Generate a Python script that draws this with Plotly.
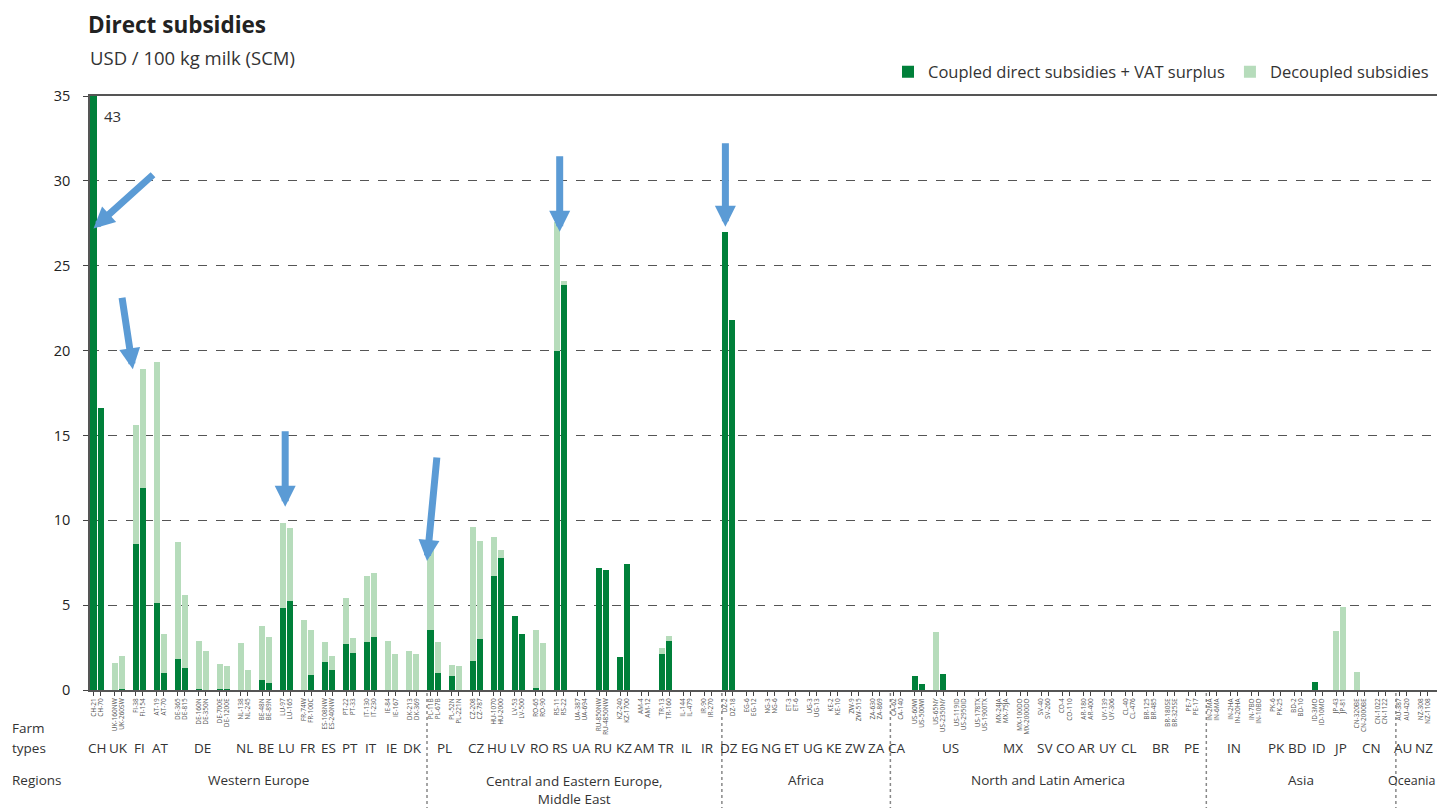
import plotly.graph_objects as go

# ---------------- data ----------------
farm_types = [
    # Western Europe
    "CH-21", "CH-70", "UK-160NW", "UK-260SW", "FI-38", "FI-154", "AT-19", "AT-70",
    "DE-365", "DE-815", "DE-160N", "DE-350N", "DE-700E", "DE-1200E", "NL-138", "NL-245",
    "BE-48N", "BE-89N", "LU-97", "LU-165", "FR-74W", "FR-100C", "ES-108NW", "ES-240NW",
    "PT-22", "PT-33", "IT-130", "IT-230", "IE-84", "IE-167", "DK-213", "DK-369",
    # Central and Eastern Europe, Middle East
    "PL-11B", "PL-67B", "PL-52N", "PL-221N", "CZ-208", "CZ-787", "HU-1070", "HU-2000",
    "LV-53", "LV-500", "RO-65", "RO-90", "RS-11", "RS-22", "UA-387", "UA-694",
    "RU-850NW", "RU-4850NW", "KZ-240", "KZ-1700", "AM-4", "AM-12", "TR-13", "TR-160",
    "IL-144", "IL-479", "IR-90", "IR-270",
    # Africa
    "DZ-2", "DZ-18", "EG-6", "EG-12", "NG-3", "NG-6", "ET-3", "ET-6",
    "UG-3", "UG-13", "KE-2", "KE-10", "ZW-9", "ZW-515", "ZA-630", "ZA-869",
    # North and Latin America
    "CA-62", "CA-140", "US-60WI", "US-500WI", "US-65NY", "US-2350NY", "US-119ID", "US-2950ID",
    "US-178TX", "US-1900TX", "MX-24JA", "MX-75JA", "MX-100DO", "MX-2000DO", "SV-40", "SV-260",
    "CO-4", "CO-110", "AR-180", "AR-400", "UY-139", "UY-306", "CL-40", "CL-476",
    "BR-125", "BR-485", "BR-180SE", "BR-325SE", "PE-7", "PE-17",
    # Asia
    "IN-2MA", "IN-6MA", "IN-2HA", "IN-20HA", "IN-7BO", "IN-10BO", "PK-6", "PK-25",
    "BD-2", "BD-10", "ID-3MO", "ID-10MO", "JP-43", "JP-81", "CN-320BE", "CN-2000BE",
    "CN-1022", "CN-1122",
    # Oceania
    "AU-387", "AU-420", "NZ-308", "NZ-1108",
]

coupled = [
    # Western Europe
    43, 16.6, 0, 0.07, 8.6, 11.9, 5.1, 1.0,
    1.85, 1.3, 0.05, 0, 0.03, 0.03, 0, 0,
    0.6, 0.4, 4.85, 5.25, 0, 0.9, 1.65, 1.2,
    2.7, 2.2, 2.8, 3.1, 0, 0, 0, 0,
    # CEE, Middle East
    3.55, 1.0, 0.85, 0, 1.7, 3.0, 6.7, 7.8,
    4.35, 3.3, 0.1, 0, 20.0, 23.85, 0, 0,
    7.2, 7.05, 1.95, 7.45, 0, 0, 2.15, 2.9,
    0, 0, 0, 0,
    # Africa
    27.0, 21.8, 0, 0, 0, 0, 0, 0,
    0, 0, 0, 0, 0, 0, 0, 0,
    # North and Latin America
    0, 0, 0.8, 0.35, 0, 0.95, 0, 0,
    0, 0, 0, 0, 0, 0, 0, 0,
    0, 0, 0, 0, 0, 0, 0, 0,
    0, 0, 0, 0, 0, 0,
    # Asia
    0, 0, 0, 0, 0, 0, 0, 0,
    0, 0, 0.5, 0, 0, 0, 0, 0,
    0, 0,
    # Oceania
    0, 0, 0, 0,
]

decoupled = [
    # Western Europe
    0, 0, 1.6, 1.95, 7.0, 7.0, 14.2, 2.3,
    6.85, 4.3, 2.85, 2.3, 1.5, 1.38, 2.75, 1.15,
    3.2, 2.7, 5.0, 4.3, 4.1, 2.65, 1.15, 0.8,
    2.7, 0.85, 3.9, 3.8, 2.9, 2.1, 2.3, 2.15,
    # CEE, Middle East
    5.0, 1.8, 0.65, 1.4, 7.9, 5.8, 2.3, 0.45,
    0, 0, 3.45, 2.75, 7.6, 0.25, 0, 0,
    0, 0, 0, 0, 0, 0, 0.35, 0.3,
    0, 0, 0, 0,
    # Africa
    0, 0, 0, 0, 0, 0, 0, 0,
    0, 0, 0, 0, 0, 0, 0, 0,
    # North and Latin America
    0, 0, 0, 0, 3.4, 0, 0, 0,
    0, 0, 0, 0, 0, 0, 0, 0,
    0, 0, 0, 0, 0, 0, 0, 0,
    0, 0, 0, 0, 0, 0,
    # Asia
    0, 0, 0, 0, 0, 0, 0, 0,
    0, 0, 0, 0, 3.45, 4.9, 1.05, 0,
    0, 0,
    # Oceania
    0, 0, 0, 0,
]

regions = ["Western Europe", "Central and Eastern Europe,<br>Middle East", "Africa",
           "North and Latin America", "Asia", "Oceania"]
region_countries = [
    ["CH", "UK", "FI", "AT", "DE", "NL", "BE", "LU", "FR", "ES", "PT", "IT", "IE", "DK"],
    ["PL", "CZ", "HU", "LV", "RO", "RS", "UA", "RU", "KZ", "AM", "TR", "IL", "IR"],
    ["DZ", "EG", "NG", "ET", "UG", "KE", "ZW", "ZA"],
    ["CA", "US", "MX", "SV", "CO", "AR", "UY", "CL", "BR", "PE"],
    ["IN", "PK", "BD", "ID", "JP", "CN"],
    ["AU", "NZ"],
]
y_ticks = [0, 5, 10, 15, 20, 25, 30, 35]
clipped_label = "43"

# ---------------- layout helpers ----------------
DARK = "#00803a"
LIGHT = "#b6dcbb"
ARROW = "#5b9bd5"
FONT = "Open Sans, Noto Sans, sans-serif"

# page body has an 8px margin -> figure drawn at (8, 8)
OFF = 8
PLOT_L, PLOT_T, PLOT_R, PLOT_B = 90, 96, 1440, 690
FIG_W, FIG_H = 1445 - OFF, 812 - OFF
PLOT_W = PLOT_R - PLOT_L
PLOT_H = PLOT_B - PLOT_T

# each pair of farms takes 3 slots (2 bars + gap)
xpos = [3 * (i // 2) + (i % 2) + 0.5 for i in range(len(farm_types))]
XMAX = 3 * (len(farm_types) // 2)

country_of = [f.split("-")[0] for f in farm_types]

fig = go.Figure()
fig.add_trace(go.Bar(x=xpos, y=coupled, name="Coupled direct subsidies + VAT surplus",
                     marker=dict(color=DARK, line=dict(width=0)), width=0.86))
fig.add_trace(go.Bar(x=xpos, y=decoupled, name="Decoupled subsidies",
                     marker=dict(color=LIGHT, line=dict(width=0)), width=0.86))

annotations = []
shapes = []


def py_paper(py):
    return (PLOT_B - py) / PLOT_H


def px_paper(px):
    return (px - PLOT_L) / PLOT_W


# country labels
seen = []
for c in country_of:
    if c not in seen:
        seen.append(c)
for c in seen:
    idx = [i for i, cc in enumerate(country_of) if cc == c]
    left = xpos[idx[0]] - 0.5
    right = xpos[idx[-1]] + 0.5
    annotations.append(dict(x=(left + right) / 2, xref="x", y=py_paper(748), yref="paper",
                            text=c, showarrow=False, font=dict(size=13.5, color="#333"),
                            xanchor="center", yanchor="middle"))

# region labels and separators
start = 0
for r, clist in zip(regions, region_countries):
    n = sum(1 for cc in country_of if cc in clist)
    end = start + 3 * (n // 2)
    two_line = "<br>" in r
    last = end >= XMAX
    annotations.append(dict(x=(start + end) / 2 - (0.8 if last else 0), xref="x",
                            y=py_paper(780), yref="paper",
                            text=r, showarrow=False,
                            font=dict(size=12.5 if last else 13.5, color="#333"),
                            xanchor="center", yanchor="top" if two_line else "middle",
                            yshift=10 if two_line else 0))
    if not last:
        shapes.append(dict(type="line", xref="paper", yref="paper",
                           x0=end / XMAX, x1=end / XMAX, y0=-0.005, y1=py_paper(808),
                           line=dict(color="#888", width=1.5, dash="dot")))
    start = end

# left side labels
for txt, py in [("Farm", 728), ("types", 748), ("Regions", 780)]:
    annotations.append(dict(x=px_paper(10), xref="paper", y=py_paper(py), yref="paper",
                            text=txt, showarrow=False, font=dict(size=13.5, color="#333"),
                            xanchor="left", yanchor="middle"))

# title & subtitle
annotations.append(dict(x=px_paper(86), xref="paper", y=py_paper(24), yref="paper",
                        text="<b>Direct subsidies</b>", showarrow=False,
                        font=dict(size=22.5, color="#222"), xanchor="left", yanchor="middle"))
annotations.append(dict(x=px_paper(88), xref="paper", y=py_paper(58), yref="paper",
                        text="USD / 100 kg milk (SCM)", showarrow=False,
                        font=dict(size=18.5, color="#333"), xanchor="left", yanchor="middle"))

# clipped bar value
annotations.append(dict(x=xpos[0], xref="x", y=33.8, yref="y", text=clipped_label,
                        showarrow=False, xshift=19, font=dict(size=15, color="#333")))

# highlight arrows (head at farm, tail offset in pixels)
arrow_specs = [
    (xpos[0], 27.2, 61, -55),
    (xpos[4] - 0.4, 18.9, -11, -73),
    (xpos[18] + 0.3, 10.8, 0, -77),
    (xpos[32] - 0.5, 7.6, 10, -105),
    (xpos[44] + 0.4, 27.0, 0, -77),
    (xpos[60], 27.3, 0, -85),
]
for hx, hy, ax, ay in arrow_specs:
    annotations.append(dict(x=hx, y=hy, xref="x", yref="y", ax=ax, ay=ay, text="",
                            showarrow=True, arrowhead=2, arrowsize=0.6, arrowwidth=7,
                            arrowcolor=ARROW))

fig.update_layout(
    width=FIG_W, height=FIG_H,
    margin=dict(l=PLOT_L - OFF, r=FIG_W + OFF - PLOT_R, t=PLOT_T - OFF, b=FIG_H + OFF - PLOT_B),
    barmode="stack", bargap=0,
    plot_bgcolor="white", paper_bgcolor="white",
    font=dict(family=FONT, color="#333"),
    showlegend=True,
    legend=dict(orientation="h", x=px_paper(1436), xanchor="right", y=py_paper(72),
                yanchor="middle", font=dict(size=16.5, color="#333"), traceorder="normal",
                bgcolor="rgba(0,0,0,0)"),
    annotations=annotations,
    shapes=shapes,
)
fig.update_xaxes(range=[0, XMAX], tickmode="array", tickvals=xpos, ticktext=farm_types,
                 tickangle=-90, tickfont=dict(size=6.5, color="#555"),
                 ticks="outside", ticklen=4, tickcolor="#444",
                 showline=True, linecolor="#555", linewidth=1.5, mirror=True,
                 showgrid=False, zeroline=False)
fig.update_yaxes(range=[0, 35], tickvals=y_ticks, tickfont=dict(size=14.5, color="#222"),
                 ticks="outside", ticklen=5, tickcolor="#444", ticklabelstandoff=10,
                 showline=True, linecolor="#555", linewidth=1.5, mirror=True,
                 showgrid=True, gridcolor="#555", griddash="dash", gridwidth=1.2,
                 zeroline=False)

fig.write_html("out.html")
